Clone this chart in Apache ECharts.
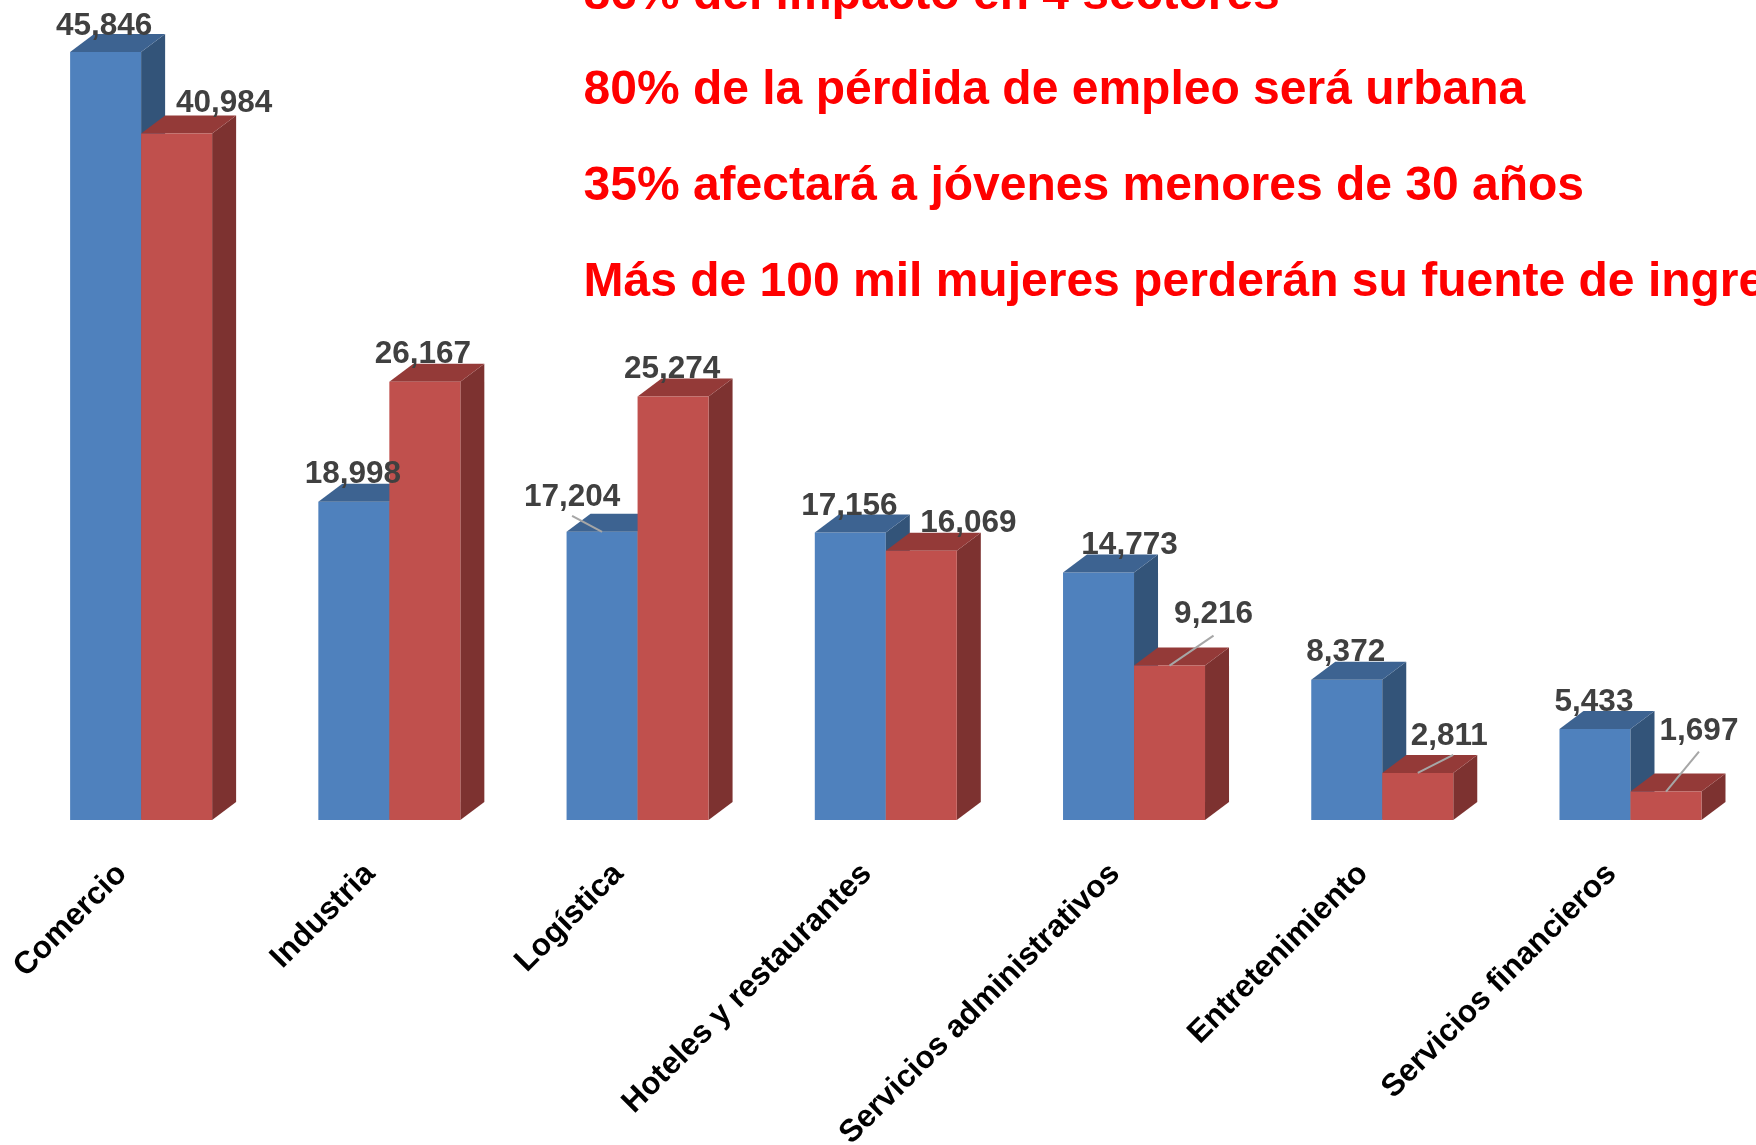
<!DOCTYPE html>
<html>
<head>
<meta charset="utf-8">
<title>Pérdida de empleo por sector</title>
<script src="https://cdn.jsdelivr.net/npm/echarts@6/dist/echarts.min.js"></script>
<style>
  html, body { margin: 0; padding: 0; background: #fff; overflow: hidden; }
  #main { width: 1756px; height: 1145px; }
</style>
</head>
<body>
<div id="main"></div>
<script>
// datos
const categories = ["Comercio", "Industria", "Logística", "Hoteles y restaurantes", "Servicios administrativos", "Entretenimiento", "Servicios financieros"];
const blueValues = [45846, 18998, 17204, 17156, 14773, 8372, 5433];
const redValues = [40984, 26167, 25274, 16069, 9216, 2811, 1697];
const headlines = [
  "86% del impacto en 4 sectores",
  "80% de la pérdida de empleo será urbana",
  "35% afectará a jóvenes menores de 30 años",
  "Más de 100 mil mujeres perderán su fuente de ingresos"
];

// posicion de las etiquetas respecto al centro superior de cada barra
const blueLabelOffset = [[-1.5, -26], [-1, -27.5], [-30, -34.5], [-1, -26.5], [31, -27], [-1, -27.5], [-1, -26.5]];
const redLabelOffset = [[47.5, -30], [-2, -27.5], [-1, -27.5], [47, -28], [44, -51], [31.5, -37], [33, -60]];
const blueLeader = [null, null, [-30, -16], null, null, null, null];
const redLeader = [null, null, null, null, [44, -30], [35.5, -18], [33, -40]];

const barWidth = 71;
const depthX = 24;
const depthY = 18;
const labelFont = 'bold 31.5px "Liberation Sans"';

// caras superior y lateral de cada barra
function depthSeries(name, values, shift, topColor, sideColor, z) {
  return {
    name: name,
    type: "custom",
    z: z,
    clip: false,
    silent: true,
    data: values.map((v, i) => [i, v]),
    encode: { x: 0, y: 1 },
    renderItem: function (params, api) {
      let top = api.coord([api.value(0), api.value(1)]);
      let base = api.coord([api.value(0), 0]);
      let l = top[0] + shift - barWidth / 2;
      let r = l + barWidth;
      return {
        type: "group",
        children: [
          {
            type: "polygon",
            shape: { points: [[r, top[1]], [r + depthX, top[1] - depthY], [r + depthX, base[1] - depthY], [r, base[1]]] },
            style: { fill: sideColor }
          },
          {
            type: "polygon",
            shape: { points: [[l, top[1]], [l + depthX, top[1] - depthY], [r + depthX, top[1] - depthY], [r, top[1]]] },
            style: { fill: topColor }
          }
        ]
      };
    }
  };
}

// etiquetas y lineas guia, por encima de todas las barras
function labelSeries(name, values, shift, offsets, leaders) {
  return {
    name: name,
    type: "custom",
    z: 10,
    clip: false,
    silent: true,
    data: values.map((v, i) => [i, v]),
    encode: { x: 0, y: 1 },
    renderItem: function (params, api) {
      let i = api.value(0);
      let top = api.coord([i, api.value(1)]);
      let cx = top[0] + shift;
      let children = [];
      if (leaders[i]) {
        children.push({
          type: "line",
          shape: { x1: cx + leaders[i][0], y1: top[1] + leaders[i][1], x2: cx, y2: top[1] },
          style: { stroke: "#A6A6A6", lineWidth: 2 }
        });
      }
      children.push({
        type: "text",
        style: {
          text: values[i].toLocaleString("en-US"),
          x: cx + offsets[i][0],
          y: top[1] + offsets[i][1],
          font: labelFont,
          fill: "#404040",
          align: "center",
          verticalAlign: "middle"
        }
      });
      return { type: "group", children: children };
    }
  };
}

let myChart = echarts.init(document.getElementById("main"));

let option = {
  animation: false,
  backgroundColor: "#fff",
  grid: { left: 17, top: 0, width: 1737.6, height: 820, outerBoundsMode: "none" },
  xAxis: {
    type: "category",
    data: categories,
    axisLine: { show: false },
    axisTick: { show: false },
    axisLabel: {
      interval: 0,
      rotate: 45,
      margin: 30,
      padding: [0, 27, 0, 0],
      color: "#000",
      fontFamily: "Liberation Sans",
      fontWeight: "bold",
      fontSize: 31.5
    }
  },
  yAxis: { type: "value", min: 0, max: 48950, show: false, splitLine: { show: false } },
  graphic: headlines.map((t, i) => ({
    type: "text",
    z: 20,
    style: {
      text: t,
      x: 583.5,
      y: 19.5 + i * 95.7,
      font: 'bold 48px "Liberation Sans"',
      fill: "#FF0000",
      verticalAlign: "bottom"
    }
  })),
  series: [
    {
      name: "blue",
      type: "bar",
      z: 3,
      barWidth: barWidth,
      barGap: 0,
      data: blueValues,
      itemStyle: { color: "#4F81BD" }
    },
    {
      name: "red",
      type: "bar",
      z: 6,
      barWidth: barWidth,
      barGap: 0,
      data: redValues,
      itemStyle: { color: "#C0504D" }
    },
    depthSeries("blueDepth", blueValues, -barWidth / 2, "#3D6391", "#335479", 4),
    depthSeries("redDepth", redValues, barWidth / 2, "#943A38", "#7D3230", 5),
    labelSeries("blueLabels", blueValues, -barWidth / 2, blueLabelOffset, blueLeader),
    labelSeries("redLabels", redValues, barWidth / 2, redLabelOffset, redLeader)
  ]
};

myChart.setOption(option);
</script>
</body>
</html>
